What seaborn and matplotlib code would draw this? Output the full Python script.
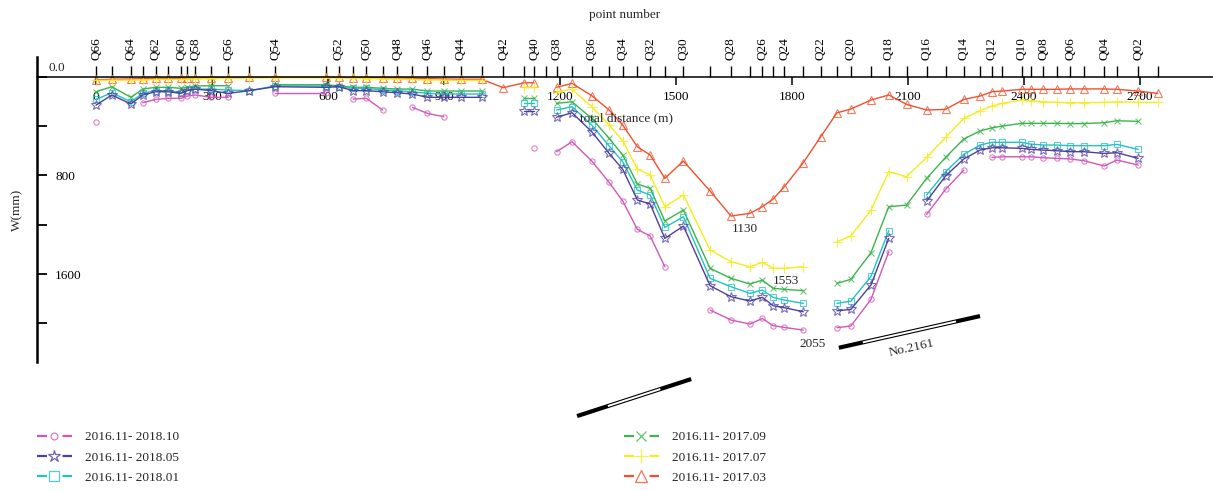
import numpy as np
import pandas as pd
import matplotlib
matplotlib.use('Agg')
import matplotlib.pyplot as plt
from matplotlib.lines import Line2D
from matplotlib.colors import to_rgba
import seaborn as sns

nan = np.nan

# point numbers Q66 ... Q01 and their distance along the line (m)
points = ['Q%02d' % i for i in range(66, 0, -1)]
dist = [0, 41, 90, 121, 154, 187, 220, 235, 256, 298, 342, 396, 463, 596, 628,
        665, 699, 741, 779, 818, 857, 899, 943, 997, 1053, 1107, 1133, 1163, 1191,
        1231, 1282, 1327, 1362, 1400, 1433, 1471, 1519, 1588, 1642, 1691, 1723,
        1751, 1780, 1829, 1874, 1916, 1952, 2004, 2050, 2096, 2148, 2197, 2244,
        2286, 2317, 2344, 2394, 2417, 2450, 2484, 2519, 2555, 2607, 2640, 2695, 2745]

# subsidence W (mm) for each period, Q66 -> Q01
w_1703 = [25, 20, 18, 15, 12, 12, 12, 12, 10, 8, 8, 5, 5, 5, 5, 8, 8, 10, 10, 12,
          15, 18, 20, 20, 89, 49, 49, nan, 86, 54, 154, 270, 392, 568, 635, 824,
          684, 927, 1130, 1108, 1054, 992, 892, 697, 487, 293, 262, 189, 148, 224,
          270, 265, 184, 157, 122, 116, 102, 102, 102, 102, 99, 99, 99, 102, 116, 135]
w_1707 = [30, 28, 28, 25, 22, 22, 22, 20, 18, 15, 12, 10, 8, 8, 10, 12, 15, 18, 20,
          22, 25, 28, 30, 30, nan, 85, 85, nan, 122, 102, 243, 392, 519, 751, 797,
          1054, 959, 1405, 1500, 1541, 1505, 1553, 1553, 1541, nan, 1338, 1292,
          1081, 770, 811, 654, 492, 338, 276, 238, 216, 189, 195, 203, 208, 211,
          211, 208, 203, 208, 208]
w_1709 = [122, 81, 167, 100, 86, 86, 94, 86, 75, 73, 73, nan, 65, 65, 75, 86, 86,
          94, 100, 100, 116, 116, 116, 116, nan, 170, 170, nan, 216, 203, 338, 500,
          635, 870, 905, 1170, 1081, 1554, 1635, 1681, 1649, 1716, 1724, 1735, nan,
          1676, 1643, 1427, 1054, 1041, 824, 654, 505, 440, 414, 400, 378, 378, 378,
          378, 380, 380, 373, 357, 362, nan]
w_1801 = [184, 130, 203, 135, 113, 113, 130, 108, 100, 100, 108, 113, 75, 75, 81,
          94, 94, 108, 113, 122, 135, 140, 140, 140, nan, 210, 210, nan, 270, 243,
          392, 562, 689, 919, 959, 1222, 1135, 1635, 1703, 1757, 1730, 1789, 1811,
          1838, nan, 1838, 1820, 1620, 1249, nan, 959, 770, 630, 554, 532, 532, 532,
          546, 554, 554, 559, 559, 559, 549, 589, nan]
w_1805 = [230, 148, 221, 148, 122, 122, 135, 113, 100, 113, 135, 113, 81, 86, 81,
          113, 113, 122, 130, 140, 167, 167, 167, 167, nan, 276, 276, nan, 329, 292,
          446, 622, 751, 1000, 1032, 1311, 1211, 1695, 1784, 1819, 1789, 1857, 1873,
          1906, nan, 1898, 1887, 1689, 1311, nan, 1008, 805, 667, 595, 576, 576, 581,
          589, 595, 600, 608, 608, 622, 616, 662, nan]
w_1810 = [370, nan, nan, 211, 184, 175, 175, 157, 148, 167, 167, nan, 130, 130, nan,
          181, 175, 270, nan, 248, 297, 324, nan, nan, nan, nan, 576, nan, 608, 527,
          684, 857, 1008, 1238, 1292, 1541, nan, 1892, 1973, 2006, 1960, 2019, 2033,
          2055, nan, 2035, 2022, 1806, 1419, nan, 1116, 913, 757, nan, 654, 649, 649,
          649, 657, 662, 667, 681, 724, 676, 716, nan]

series = [
    ('2016.11- 2018.10', w_1810, '#d058b8', 'o', 3.8),
    ('2016.11- 2018.05', w_1805, '#4e3f9e', '*', 7),
    ('2016.11- 2018.01', w_1801, '#22c2c2', 's', 5),
    ('2016.11- 2017.09', w_1709, '#3cb44c', 'x', 5),
    ('2016.11- 2017.07', w_1707, '#f5ec1c', '+', 7),
    ('2016.11- 2017.03', w_1703, '#f0502e', '^', 5.5),
]

# annotations: (text, distance, W)
notes = [('1130', 1678, 1235), ('1553', 1784, 1654), ('2055', 1853, 2170)]
# fault-like symbols: end points (distance, W)
bar_a = [(1921, 2198), (2286, 1941)]
bar_b = [(1244, 2752), (1539, 2452)]

sns.set_style('white')
plt.rcParams['font.family'] = ['Liberation Serif', 'DejaVu Serif']
fs = 9.5

W, H = 1213, 491
fig = plt.figure(figsize=(W / 100, H / 100), dpi=100)
ax = fig.add_axes([37 / W, 1 - 430 / H, 1 - 37 / W, 373 / H])

for name, w, c, m, ms in reversed(series):
    df = pd.DataFrame({'dist': dist, 'W': w})
    df['seg'] = np.cumsum(df['W'].isna())
    df = df.dropna()
    sns.lineplot(data=df, x='dist', y='W', units='seg', estimator=None,
                 color=c, lw=1.0, marker=m, ms=ms, mfc='none',
                 mec=to_rgba(c, 0.75), mew=0.8, ax=ax, legend=False)

ax.set_xlim(-152.6, 2888.5)
ax.set_ylim(2865, -160)
ax.set_xlabel('')
ax.set_ylabel('')

for s in ['top', 'right']:
    ax.spines[s].set_visible(False)
ax.spines['left'].set_bounds(-160, 2314)
ax.spines['left'].set_linewidth(1.8)
ax.spines['bottom'].set_position(('data', 0))
ax.spines['bottom'].set_linewidth(1.1)
for s in ['left', 'bottom']:
    ax.spines[s].set_color('black')

ax.set_xticks(range(0, 2701, 300))
ax.tick_params(axis='x', direction='out', length=6, width=1.1, pad=4,
               labelsize=fs, colors='black', bottom=True)
ax.set_yticks([0, 400, 800, 1200, 1600, 2000],
              labels=['', '', '800', '', '1600', ''])
ax.tick_params(axis='y', direction='in', length=7, width=1.3, pad=-13,
               labelsize=fs, colors='black', left=True)
for lbl in ax.get_yticklabels():
    lbl.set_horizontalalignment('left')

# point-number axis sitting on the W = 0 line
y0, y1 = ax.get_ylim()
frac = (y0 - 0) / (y0 - y1)
sec = ax.secondary_xaxis(frac)
sec.set_xticks(dist, labels=[p if int(p[1:]) % 2 == 0 else '' for p in points])
sec.tick_params(direction='out', length=8, width=1.0, pad=4, labelrotation=90,
                labelsize=fs, colors='black')
for s in sec.spines.values():
    s.set_visible(False)

for txt, d, wv in notes:
    ax.text(d, wv, txt, ha='center', va='center', fontsize=fs)
ax.text(2110, 2198, 'No.2161', ha='center', va='center', fontsize=fs, rotation=12.5)

for (p0, p1), f0, f1 in [(bar_a, 0.17, 0.83), (bar_b, 0.27, 0.73)]:
    xs = [p0[0], p1[0]]
    ys = [p0[1], p1[1]]
    ax.plot(xs, ys, color='black', lw=3.0, solid_capstyle='butt', clip_on=False)
    mx = [p0[0] + f0 * (p1[0] - p0[0]), p0[0] + f1 * (p1[0] - p0[0])]
    my = [p0[1] + f0 * (p1[1] - p0[1]), p0[1] + f1 * (p1[1] - p0[1])]
    ax.plot(mx, my, color='white', lw=1.4, solid_capstyle='butt', clip_on=False)

fig.text(57 / W, 1 - 68 / H, '0.0', ha='center', va='center', fontsize=fs)
fig.text(625 / W, 1 - 15 / H, 'point number', ha='center', va='center', fontsize=fs)
fig.text(626 / W, 1 - 118 / H, 'total distance (m)', ha='center', va='center', fontsize=fs)
fig.text(17 / W, 1 - 210 / H, 'W(mm)', ha='center', va='center', rotation=90, fontsize=fs)

handles = [Line2D([], [], color=c, lw=1.6, dashes=(4.5, 7.0), marker=m,
                  ms=ms * 1.5 if m not in ('*', 'o') else ms * 1.3, mfc='none',
                  mec=to_rgba(c, 0.8), mew=0.9)
           for _, _, c, m, ms in series]
labels = [s[0] for s in series]
fig.legend(handles, labels, loc='upper left', bbox_to_anchor=(37 / W, 1 - 431 / H),
           ncol=2, frameon=False, fontsize=fs, handlelength=2.65, handletextpad=1.0,
           labelspacing=0.62, columnspacing=33.7, borderpad=0, borderaxespad=0,
           numpoints=1)

fig.savefig('out.png', dpi=100)
